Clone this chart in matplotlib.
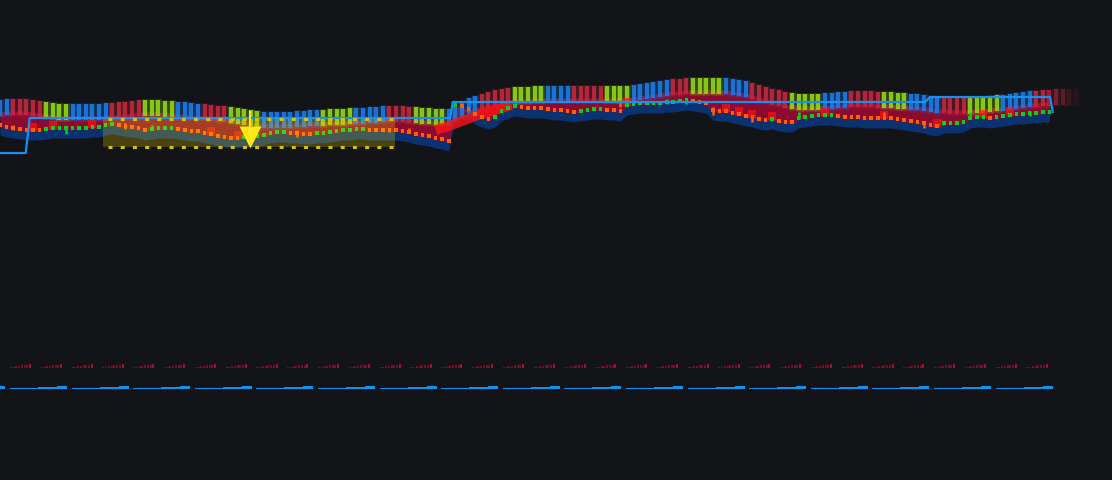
import matplotlib
matplotlib.use("Agg")
import matplotlib.pyplot as plt
from matplotlib.colors import to_rgba
import numpy as np

# ---- data (prices, one value per bar) ----
ribbon = [29.2,29.3,29.3,29.3,29.3,29.2,29.1,29.0,28.9,28.8,
          28.8,28.8,28.8,28.8,28.8,28.8,28.9,28.9,29.0,29.0,
          29.1,29.2,29.2,29.2,29.2,29.1,29.1,29.0,29.0,28.9,
          28.8,28.8,28.7,28.6,28.6,28.5,28.4,28.3,28.2,28.1,
          28.0,28.0,28.0,28.0,28.0,28.1,28.1,28.2,28.2,28.2,
          28.3,28.3,28.3,28.4,28.4,28.4,28.5,28.5,28.6,28.6,
          28.6,28.6,28.5,28.5,28.4,28.4,28.3,28.3,28.3,28.7,
          29.0,29.4,29.6,29.8,30.0,30.2,30.3,30.4,30.5,30.5,
          30.5,30.6,30.6,30.6,30.6,30.6,30.6,30.6,30.6,30.6,
          30.6,30.6,30.6,30.6,30.6,30.6,30.7,30.8,30.9,31.0,
          31.1,31.2,31.3,31.3,31.4,31.4,31.4,31.4,31.4,31.4,
          31.4,31.3,31.2,31.1,30.9,30.7,30.5,30.3,30.2,30.0,
          29.9,29.8,29.8,29.8,29.8,29.9,29.9,30.0,30.0,30.1,
          30.1,30.1,30.1,30.0,30.0,30.0,29.9,29.9,29.8,29.8,
          29.7,29.6,29.5,29.5,29.4,29.4,29.4,29.4,29.5,29.5,
          29.6,29.7,29.7,29.8,29.9,30.0,30.1,30.1,30.2,30.2,
          30.3,30.3,30.3,30.3]

ribbon_runs = [('B',2),('R',5),('G',4),('B',6),('R',5),('G',5),('B',4),('R',4),
               ('G',5),('B',9),('G',5),('B',5),('R',4),('G',5),('B',5),('R',5),
               ('G',5),('B',4),('R',5),('G',4),('B',6),('R',3),('G',5),('B',4),
               ('R',6),('G',5),('B',4),('R',5),('G',4),('B',5),('R',4),('G',5),
               ('B',5),('R',7)]

candles = [27.5,27.3,27.2,27.1,27.0,27.0,27.0,27.1,27.2,27.2,
           27.2,27.2,27.2,27.2,27.3,27.3,27.5,27.6,27.5,27.4,
           27.3,27.2,27.0,27.1,27.2,27.2,27.2,27.1,27.0,26.9,
           26.9,26.7,26.6,26.4,26.3,26.2,26.2,26.3,26.3,26.4,
           26.5,26.7,26.8,26.8,26.7,26.7,26.6,26.6,26.7,26.7,
           26.8,26.9,27.0,27.0,27.1,27.1,27.0,27.0,27.0,27.0,
           27.0,26.9,26.8,26.6,26.5,26.4,26.2,26.1,25.9,29.5,
           29.4,29.1,28.6,28.3,28.1,28.3,28.9,29.2,29.4,29.3,
           29.2,29.2,29.2,29.1,29.0,29.0,28.9,28.8,28.9,29.0,
           29.1,29.1,29.0,29.0,28.9,29.5,29.6,29.7,29.7,29.7,
           29.7,29.8,29.8,29.9,30.0,29.9,29.8,29.7,29.0,28.9,
           28.9,28.7,28.6,28.4,28.3,28.1,28.0,28.1,27.9,27.8,
           27.8,28.2,28.3,28.4,28.5,28.5,28.5,28.4,28.3,28.3,
           28.3,28.2,28.2,28.2,28.2,28.2,28.1,28.0,27.9,27.8,
           27.7,27.5,27.4,27.7,27.7,27.7,27.8,28.2,28.3,28.3,
           28.2,28.3,28.4,28.5,28.6,28.6,28.7,28.7,28.8,28.8]

tall_idx = [2, 10, 19, 23, 45, 59, 62, 94, 101, 104, 108, 114, 121, 134, 140, 147, 156]
tall_top = [27.5, 27.2, 27.7, 27.5, 27.0, 27.2, 27.2, 30.0, 30.1, 30.2, 29.3, 28.5, 28.8, 28.8, 27.9, 28.8, 28.9]
tall_bot = [27.0, 26.6, 27.1, 27.0, 26.3, 26.8, 26.7, 29.3, 29.6, 29.6, 28.5, 27.8, 28.1, 28.2, 27.2, 28.2, 28.4]

signal_idx = [5, 8, 14, 32, 36, 95, 110, 112, 114, 117, 125, 134, 142, 149, 153]
streak_x = [66.0, 68.0, 70.0, 72.0, 74.0, 76.0, 77.5]
streak_y = [27.0, 27.4, 27.9, 28.4, 28.8, 29.2, 29.5]

stop_x = [0.0, 3.9, 4.5, 68.2, 68.6, 140.2, 140.9, 159.1, 159.5]
stop_y = [24.7, 24.7, 28.2, 28.2, 29.8, 29.8, 30.3, 30.3, 28.8]

zone_x = [15.6, 59.8]
zone_y = [25.3, 28.1]
signal_x = 37.9
signal_y = 26.35

vol_pattern = [0.1, 0.1, 0.2, 0.2, 0.3, 0.3, 0.3, 0.4]
n_vol_groups = 35
bal_pattern = [0.1, 0.2, 0.3]
n_bal = 18

# ---- style ----
bg = '#131418'
col_map = {'B': '#1a80f0', 'R': '#c8283e', 'G': '#96de12'}
step = 6.6  # px per bar

fig = plt.figure(figsize=(11.12, 4.8), dpi=100, facecolor=bg)
ax = fig.add_axes([0, 0, 1, 1])
ax.set_facecolor(bg)
ax.set_xlim(0, 1112 / step)
ax.set_ylim(-8, 40)
ax.axis('off')

x_r = np.arange(len(ribbon))
x_c = np.arange(len(candles))
rib = np.array(ribbon)
cnd = np.array(candles)
rib_c = rib[:len(cnd)]

# cloud
ax.fill_between(x_c, rib_c - 0.7, cnd - 1.0, color='#0b3270', lw=0, zorder=1)
ax.fill_between(x_c, rib_c - 0.4, cnd - 0.15, color='#8a0b30', lw=0, zorder=2)

# ribbon bars
letters = []
for c, n in ribbon_runs:
    letters += [c] * n
rcols = []
for i, c in enumerate(letters):
    a = 0.85 if i < 159 else 0.85 - 0.17 * (i - 158)
    rcols.append(to_rgba(col_map[c], max(a, 0.1)))
ax.vlines(x_r, rib - 0.9, rib + 0.9, colors=[(r, g, b, a * 0.3) for r, g, b, a in rcols],
          lw=5, zorder=3)
ax.vlines(x_r, rib - 0.8, rib + 0.8, colors=rcols, lw=3.0, zorder=4)

# bright red signals
ax.plot(streak_x, streak_y, color='#ff1414', lw=7, alpha=0.8, zorder=5, solid_capstyle='butt')
ax.scatter(signal_idx, cnd[signal_idx] + 0.3, marker='s', s=34, color='#ff1010',
           alpha=0.7, lw=0, zorder=5)

# candles
ccols = []
prev = '#ff5f00'
for i in range(len(cnd)):
    if i > 0 and cnd[i] > cnd[i - 1]:
        prev = '#00d21e'
    elif i > 0 and cnd[i] < cnd[i - 1]:
        prev = '#ff5f00'
    ccols.append(prev)
ax.vlines(tall_idx, tall_bot, tall_top, colors=[ccols[i] for i in tall_idx], lw=1.8, zorder=6)
ax.scatter(x_c, cnd, marker='s', s=7, c=ccols, lw=0, zorder=6)

# stop line
ax.plot(stop_x, stop_y, color='#1a8ff0', lw=1.6, zorder=7)

# zone
ax.fill_between(zone_x, zone_y[0], zone_y[1], color='#ffe000', alpha=0.23, lw=0, zorder=8)
ax.hlines(zone_y, zone_x[0] + 0.7, zone_x[1], colors='#d8c010', lw=2.2,
          linestyles=[(0, (1.3, 2.7))], zorder=9)
ax.vlines(signal_x, signal_y + 1.0, signal_y + 2.6, color='#ffe81a', lw=1.5, zorder=9)
ax.plot(signal_x, signal_y, marker='v', ms=15.5, color='#ffe81a', mec='none', zorder=10)

# bottom histograms
for k in range(-1, n_vol_groups - 1):
    g0 = (10 + 30.8 * k) / step
    xs = g0 + np.arange(len(vol_pattern)) * (2.75 / step)
    cols = ['#7a0a26'] * (len(vol_pattern) - 1) + ['#a0102f']
    ax.bar(xs, vol_pattern, width=2 / step, bottom=3.25, color=cols, align='edge', lw=0)

seg_len = [28, 19, 10]
for k in range(-1, n_bal - 1):
    s0 = 10 + 61.6 * k
    for h, L in zip(bal_pattern, seg_len):
        ax.bar(s0 / step, h, width=L / step, bottom=1.1, color='#0d94f2', align='edge', lw=0)
        s0 += L

fig.savefig('out.png', dpi=100, facecolor=bg)
